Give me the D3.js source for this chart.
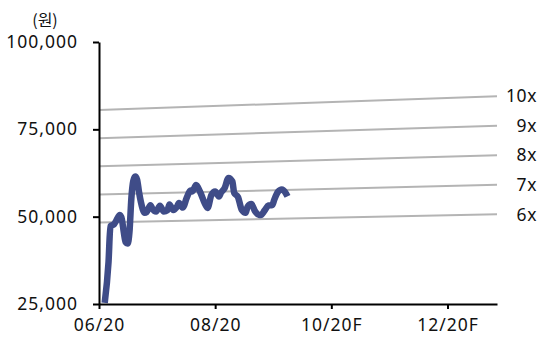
<!DOCTYPE html>
<html><head><meta charset="utf-8">
<script src="https://cdn.jsdelivr.net/npm/d3@7"></script>
<style>
html,body{margin:0;padding:0;background:#fff;}
svg{display:block;font-family:"Noto Sans","Noto Sans CJK KR",sans-serif;}
</style></head>
<body>
<svg id="chart" width="545" height="337"></svg>
<script>
// ---- data ----
const priceDates = ["2020-06-04","2020-06-06","2020-06-07","2020-06-09","2020-06-10","2020-06-12","2020-06-13","2020-06-14","2020-06-15","2020-06-16","2020-06-17","2020-06-18","2020-06-19","2020-06-20","2020-06-21","2020-06-22","2020-06-23","2020-06-25","2020-06-26","2020-06-28","2020-06-29","2020-07-01","2020-07-03","2020-07-05","2020-07-07","2020-07-08","2020-07-10","2020-07-12","2020-07-13","2020-07-15","2020-07-17","2020-07-19","2020-07-20","2020-07-22","2020-07-24","2020-07-27","2020-07-28","2020-07-30","2020-08-01","2020-08-03","2020-08-04","2020-08-06","2020-08-08","2020-08-10","2020-08-11","2020-08-13","2020-08-15","2020-08-17","2020-08-18","2020-08-20","2020-08-22","2020-08-24","2020-08-25","2020-08-27","2020-08-29","2020-08-31","2020-09-01","2020-09-03","2020-09-05","2020-09-07","2020-09-08"];
const priceValues = [25300,37000,47300,47900,48800,50500,49300,45600,42700,42300,45600,55300,60200,61500,60600,57100,54200,51100,51300,53300,52300,51500,53100,51500,51900,53500,51900,52900,53900,52600,55300,57500,57200,59100,57200,53300,52500,56200,57200,55800,56800,58200,61100,60100,56800,55600,51900,51100,52800,53600,51500,50500,50500,51800,53200,53300,54800,57100,57800,56800,55800];
const bandDates = ["2020-06-01","2020-12-27"];
const bandEps = [8050, 8450];
const bandMultiples = [6, 7, 8, 9, 10];
const bandLabels = ["6x","7x","8x","9x","10x"];
const yTicks = [25000, 50000, 75000, 100000];
const xTickDates = ["2020-06-01","2020-08-01","2020-10-01","2020-12-01"];
const xTickLabels = ["06/20","08/20","10/20F","12/20F"];
const unitLabel = "(원)";

// ---- chart ----
const parse = d3.timeParse("%Y-%m-%d");
const svg = d3.select("#chart");
const x = d3.scaleTime().domain([parse(bandDates[0]), parse(bandDates[1])]).range([99, 497]);
const y = d3.scaleLinear().domain([25000, 100000]).range([304, 42]);

// bands
const bandG = svg.append("g");
bandMultiples.forEach((m, i) => {
  const pts = bandDates.map((d, j) => [parse(d), bandEps[j] * m]);
  bandG.append("path")
    .attr("d", d3.line().x(p => x(p[0])).y(p => y(p[1]))(pts))
    .attr("fill", "none").attr("stroke", "#b4b4b4").attr("stroke-width", 2);
  bandG.append("text")
    .attr("x", 537).attr("y", y(bandEps[1] * m))
    .attr("dy", "0.36em").attr("text-anchor", "end")
    .attr("font-size", 17.5).attr("letter-spacing", 0.6).attr("fill", "#111")
    .text(bandLabels[i]);
});

// price
const priceData = priceDates.map((d, i) => [parse(d), priceValues[i]]);
svg.append("path")
  .attr("d", d3.line().x(p => x(p[0])).y(p => y(p[1])).curve(d3.curveMonotoneX)(priceData))
  .attr("fill", "none").attr("stroke", "#3f4c88").attr("stroke-width", 6.5)
  .attr("stroke-linejoin", "round").attr("stroke-linecap", "butt");

// axes
const yAxis = d3.axisLeft(y).tickValues(yTicks).tickFormat(d3.format(",")).tickSize(6).tickSizeOuter(0).tickPadding(15);
const gy = svg.append("g").attr("transform", "translate(99,0)").call(yAxis);
const xAxis = d3.axisBottom(x).tickValues(xTickDates.map(parse)).tickFormat((d, i) => xTickLabels[i]).tickSize(5).tickSizeOuter(0).tickPadding(10);
const gx = svg.append("g").attr("transform", "translate(0,304)").call(xAxis);
[gx, gy].forEach(g => {
  g.selectAll("path.domain").attr("stroke", "#000").attr("stroke-width", 2);
  g.selectAll(".tick line").attr("stroke", "#000").attr("stroke-width", 2);
  g.selectAll("text").attr("font-size", 17.5).attr("letter-spacing", 1).attr("fill", "#111")
    .attr("font-family", "'Noto Sans','Noto Sans CJK KR',sans-serif");
});

svg.append("text").attr("x", 45).attr("y", 20).attr("dy", "0.36em")
  .attr("text-anchor", "middle").attr("font-size", 16).attr("fill", "#111")
  .attr("font-family", "'Noto Sans CJK KR',sans-serif").text(unitLabel);
</script>
</body></html>
